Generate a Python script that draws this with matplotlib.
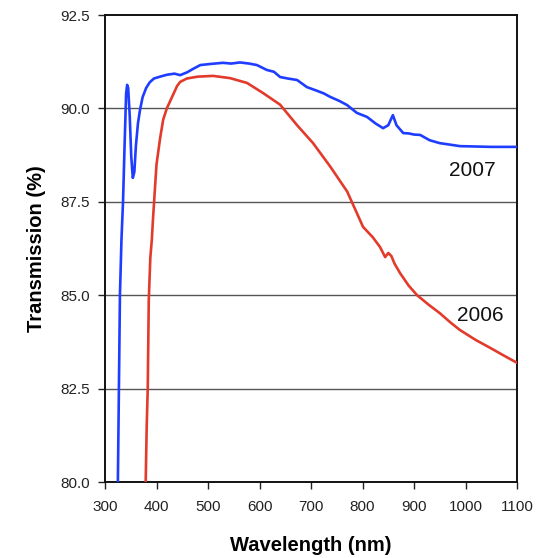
import matplotlib
matplotlib.use("Agg")
import matplotlib.pyplot as plt

# ---- data ----
wl_2007 = [325, 327, 329, 332, 335, 338, 341, 343, 345, 348, 351, 354, 357, 360, 364, 368,
           373, 380, 387, 395, 407, 420, 435, 446, 460, 470, 485, 505, 529, 545, 562, 580,
           595, 614, 628, 640, 655, 673, 692, 710, 725, 737, 755, 770, 789, 809, 825, 840,
           850, 859, 866, 879, 890, 900, 912, 930, 950, 970, 989, 1020, 1050, 1100]
tr_2007 = [80.0, 82.5, 85.0, 86.5, 87.5, 89.0, 90.4, 90.63, 90.55, 89.8, 88.7, 88.14, 88.3,
           89.0, 89.6, 89.96, 90.3, 90.55, 90.7, 90.8, 90.85, 90.9, 90.93, 90.89, 90.97,
           91.05, 91.16, 91.19, 91.22, 91.2, 91.23, 91.2, 91.16, 91.03, 90.98, 90.84, 90.8,
           90.76, 90.57, 90.48, 90.4, 90.31, 90.2, 90.09, 89.88, 89.77, 89.6, 89.47, 89.55,
           89.82, 89.55, 89.34, 89.33, 89.3, 89.29, 89.15, 89.07, 89.03, 88.99, 88.98,
           88.97, 88.97]

wl_2006 = [379, 381, 383, 385, 388, 391, 393, 400, 407, 413, 420, 430, 440, 446, 459, 480,
           510, 543, 576, 607, 640, 673, 704, 737, 770, 789, 801, 820, 834, 844, 850, 856,
           862, 873, 890, 906, 928, 950, 970, 989, 1020, 1048, 1075, 1100]
tr_2006 = [80.0, 81.5, 82.5, 84.87, 86.0, 86.5, 87.0, 88.5, 89.2, 89.7, 90.0, 90.3, 90.6,
           90.71, 90.8, 90.85, 90.87, 90.81, 90.68, 90.41, 90.1, 89.55, 89.07, 88.45, 87.78,
           87.2, 86.83, 86.55, 86.29, 86.02, 86.13, 86.05, 85.85, 85.59, 85.25, 85.0, 84.75,
           84.52, 84.28, 84.07, 83.8, 83.59, 83.38, 83.19]

x_ticks = [300, 400, 500, 600, 700, 800, 900, 1000, 1100]
y_ticks = [80.0, 82.5, 85.0, 87.5, 90.0, 92.5]
series_labels = ["2007", "2006"]

plt.rcParams['font.family'] = ['Liberation Sans', 'DejaVu Sans']

fig = plt.figure(figsize=(5.45, 5.58), dpi=100)
ax = fig.add_axes([105/545, 1 - 482/558, (517-105)/545, (482-15)/558])

for y in [82.5, 85.0, 87.5, 90.0]:
    ax.axhline(y, color='#555555', lw=1.0, zorder=1)

ax.plot(wl_2007, tr_2007, color='#1f3dff', lw=1.9, zorder=3)
ax.plot(wl_2006, tr_2006, color='#e23b2c', lw=1.9, zorder=3)

ax.set_xlim(300, 1100)
ax.set_ylim(80, 92.5)
ax.set_xticks(x_ticks)
ax.set_yticks(y_ticks)
ax.set_yticklabels([f"{v:.1f}" for v in y_ticks])
ax.tick_params(direction='out', length=5, width=1, labelsize=11, colors='#222222',
               top=False, right=False)
ax.tick_params(axis='x', pad=8)
ax.tick_params(axis='y', pad=6)
for s in ax.spines.values():
    s.set_linewidth(1.4)
    s.set_color('#111111')

ax.set_xlabel("Wavelength (nm)", fontsize=14.5, fontweight='bold', labelpad=16)
ax.set_ylabel("Transmission (%)", fontsize=14.5, fontweight='bold', labelpad=10)

ax.text(1014, 88.35, series_labels[0], fontsize=15, ha='center', va='center', color='#111111')
ax.text(1028, 84.45, series_labels[1], fontsize=15, ha='center', va='center', color='#111111')

fig.savefig("out.png", dpi=100)
